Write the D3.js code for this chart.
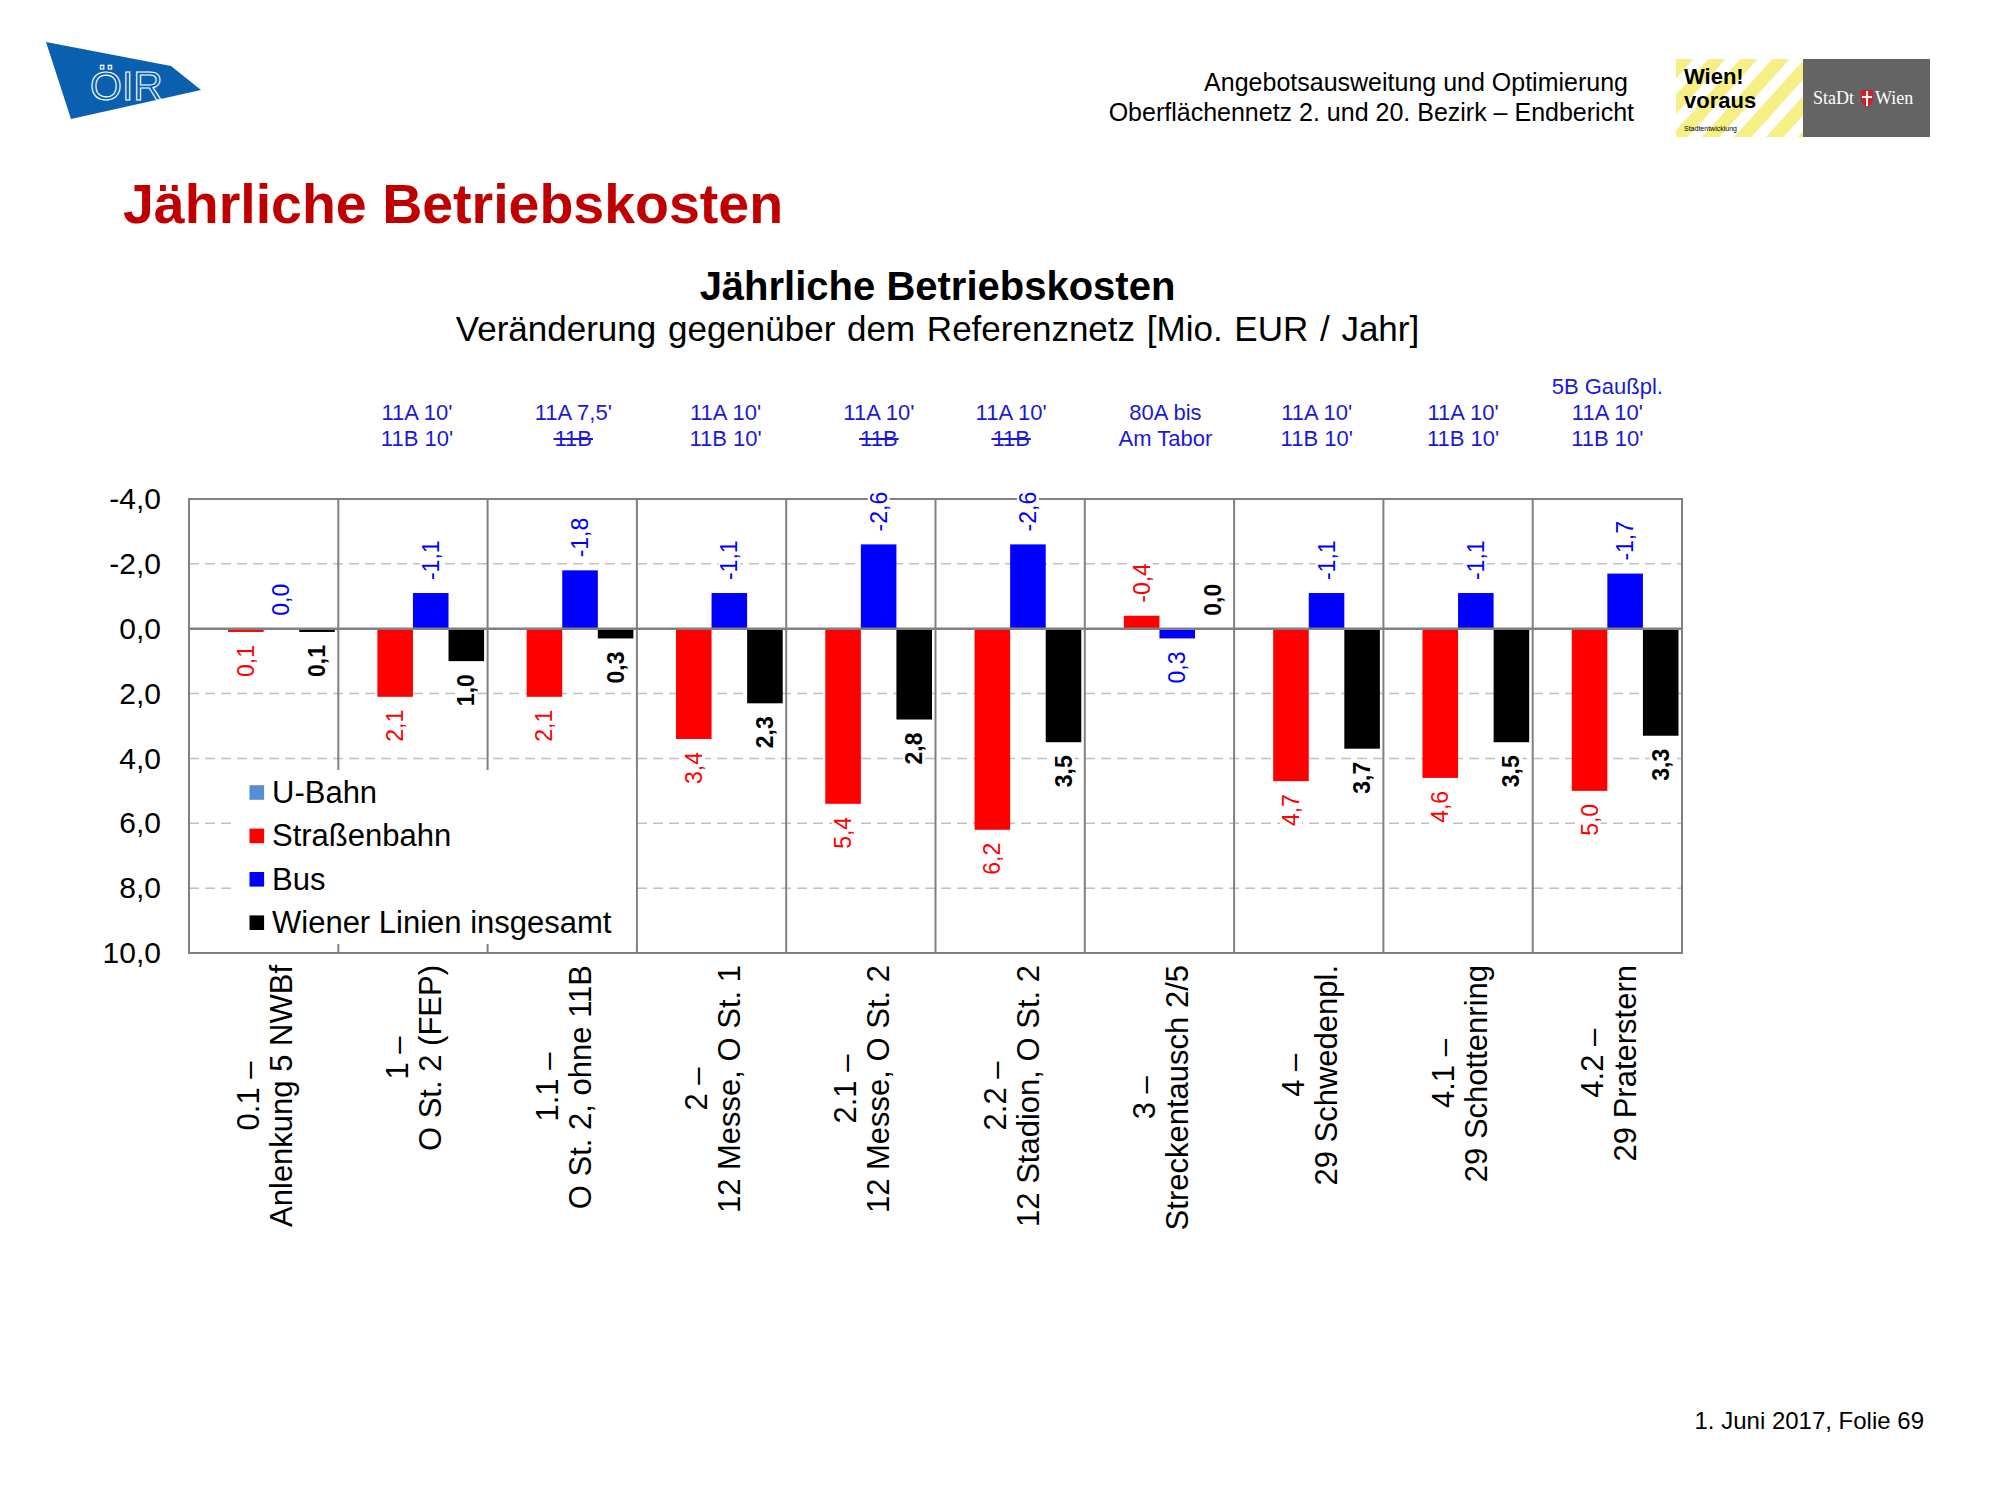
<!DOCTYPE html>
<html>
<head>
<meta charset="utf-8">
<script src="https://cdn.jsdelivr.net/npm/d3@7"></script>
<style>
  body { margin: 0; background: #fff; }
  svg { display: block; font-family: "Liberation Sans", Arial, sans-serif; }
</style>
</head>
<body>
<svg id="slide" width="2000" height="1500"></svg>
<script>
// chart data
const categories = [
  ["0.1 –", "Anlenkung 5 NWBf"],
  ["1 –", "O St. 2 (FEP)"],
  ["1.1 –", "O St. 2, ohne 11B"],
  ["2 –", "12 Messe, O St. 1"],
  ["2.1 –", "12 Messe, O St. 2"],
  ["2.2 –", "12 Stadion, O St. 2"],
  ["3 –", "Streckentausch 2/5"],
  ["4 –", "29 Schwedenpl."],
  ["4.1 –", "29 Schottenring"],
  ["4.2 –", "29 Praterstern"]
];
const seriesNames = ["U-Bahn", "Straßenbahn", "Bus", "Wiener Linien insgesamt"];
const uBahn = [null, null, null, null, null, null, null, null, null, null];
const strassenbahn = [0.1, 2.1, 2.1, 3.4, 5.4, 6.2, -0.4, 4.7, 4.6, 5.0];
const bus = [0.0, -1.1, -1.8, -1.1, -2.6, -2.6, 0.3, -1.1, -1.1, -1.7];
const wienerLinien = [0.1, 1.0, 0.3, 2.3, 2.8, 3.5, 0.0, 3.7, 3.5, 3.3];
const yTicks = [-4, -2, 0, 2, 4, 6, 8, 10];

// notes above each scenario; struckNotes = lines that are crossed out
const notes = [
  [],
  ["11A 10'", "11B 10'"],
  ["11A 7,5'", "11B"],
  ["11A 10'", "11B 10'"],
  ["11A 10'", "11B"],
  ["11A 10'", "11B"],
  ["80A bis", "Am Tabor"],
  ["11A 10'", "11B 10'"],
  ["11A 10'", "11B 10'"],
  ["5B Gaußpl.", "11A 10'", "11B 10'"]
];
const struckNotes = [[], [], [1], [], [1], [1], [], [], [], []];

const colours = ["#558ed5", "#ff0000", "#0000ff", "#000000"];

const locale = d3.formatLocale({ decimal: ",", thousands: ".", grouping: [3], currency: ["", " €"], minus: "-" });
const fmt = locale.format(".1f");

class Slide {
  constructor() {
    this.$svg = d3.select("svg#slide");
    this.plot = { left: 189, right: 1682, top: 499, bottom: 953 };
    this.values = [uBahn, strassenbahn, bus, wienerLinien];

    this.x = d3.scaleBand()
      .domain(d3.range(categories.length))
      .range([this.plot.left, this.plot.right]);
    this.xs = d3.scaleBand()
      .domain(seriesNames)
      .range([3.5, this.x.bandwidth() - 3.5]);
    this.y = d3.scaleLinear()
      .domain([-4, 10])
      .range([this.plot.top, this.plot.bottom]);

    this.drawHeader();
    this.drawTitles();
    this.drawGrid();
    this.drawBars();
    this.drawLabels();
    this.drawLegend();
    this.drawCategories();
    this.drawNotes();
  }

  drawHeader() {
    const $s = this.$svg;

    // ÖIR pennant
    const $oir = $s.append("g");
    $oir.append("polygon")
      .attr("points", "46,42 171,66 201,90 71,119")
      .attr("fill", "#0a5fae");
    $oir.append("text")
      .attr("x", 90).attr("y", 100)
      .attr("font-size", 41)
      .attr("fill", "none")
      .attr("stroke", "#fff")
      .attr("stroke-width", 1.1)
      .text("ÖIR");

    $s.append("text")
      .attr("x", 1628).attr("y", 91)
      .attr("text-anchor", "end")
      .attr("font-size", 25)
      .text("Angebotsausweitung und Optimierung");
    $s.append("text")
      .attr("x", 1634).attr("y", 121)
      .attr("text-anchor", "end")
      .attr("font-size", 25)
      .text("Oberflächennetz 2. und 20. Bezirk – Endbericht");

    // Wien! voraus logo
    const $wv = $s.append("g").attr("transform", "translate(1676,59)");
    $s.append("defs").append("clipPath").attr("id", "wv-clip")
      .append("rect").attr("width", 127).attr("height", 78);
    const $stripes = $wv.append("g").attr("clip-path", "url(#wv-clip)");
    $stripes.append("rect").attr("width", 127).attr("height", 78).attr("fill", "#fff");
    d3.range(-2, 8).forEach((k) => {
      $stripes.append("line")
        .attr("x1", k * 32 - 40).attr("y1", 90)
        .attr("x2", k * 32 + 50).attr("y2", -10)
        .attr("stroke", "#f6ef86")
        .attr("stroke-width", 13);
    });
    $wv.append("text").attr("x", 8).attr("y", 25)
      .attr("font-size", 22).attr("font-weight", "bold").text("Wien!");
    $wv.append("text").attr("x", 8).attr("y", 49)
      .attr("font-size", 22).attr("font-weight", "bold").text("voraus");
    $wv.append("text").attr("x", 8).attr("y", 72)
      .attr("font-size", 7).text("Stadtentwicklung");

    // Stadt Wien logo
    const $sw = $s.append("g").attr("transform", "translate(1803,59)");
    $sw.append("rect").attr("width", 127).attr("height", 78).attr("fill", "#646464");
    $sw.append("text").attr("x", 10).attr("y", 45)
      .attr("font-family", "'Liberation Serif', serif")
      .attr("font-size", 18).attr("fill", "#fff").text("StaDt");
    $sw.append("path")
      .attr("d", "M58,31 h12 v9 q0,6 -6,8 q-6,-2 -6,-8 Z")
      .attr("fill", "#d0202a");
    $sw.append("path")
      .attr("d", "M64,32 v15 M59,38 h10")
      .attr("stroke", "#fff").attr("stroke-width", 2);
    $sw.append("text").attr("x", 72).attr("y", 45)
      .attr("font-family", "'Liberation Serif', serif")
      .attr("font-size", 18).attr("fill", "#fff").text("Wien");

    $s.append("text")
      .attr("x", 123).attr("y", 223)
      .attr("font-size", 55.5)
      .attr("font-weight", "bold")
      .attr("fill", "#c00000")
      .text("Jährliche Betriebskosten");

    $s.append("text")
      .attr("x", 1924).attr("y", 1429)
      .attr("text-anchor", "end")
      .attr("font-size", 24)
      .text("1. Juni 2017, Folie 69");
  }

  drawTitles() {
    const cx = (this.plot.left + this.plot.right) / 2 + 2;
    this.$svg.append("text")
      .attr("x", cx).attr("y", 300)
      .attr("text-anchor", "middle")
      .attr("font-size", 40).attr("font-weight", "bold")
      .text("Jährliche Betriebskosten");
    this.$svg.append("text")
      .attr("x", cx).attr("y", 341)
      .attr("text-anchor", "middle")
      .attr("font-size", 35)
      .attr("word-spacing", 2)
      .text("Veränderung gegenüber dem Referenznetz [Mio. EUR / Jahr]");
  }

  drawGrid() {
    const { left, right, top, bottom } = this.plot;
    const $g = this.$svg.append("g");

    $g.selectAll("line.grid")
      .data(yTicks.filter((t) => t !== -4 && t !== 0 && t !== 10))
      .join("line")
      .attr("class", "grid")
      .attr("x1", left).attr("x2", right)
      .attr("y1", (d) => this.y(d)).attr("y2", (d) => this.y(d))
      .attr("stroke", "#c0c0c0")
      .attr("stroke-width", 1.5)
      .attr("stroke-dasharray", "10,6");

    $g.selectAll("line.sep")
      .data(d3.range(1, categories.length))
      .join("line")
      .attr("class", "sep")
      .attr("x1", (d) => this.x(d)).attr("x2", (d) => this.x(d))
      .attr("y1", top).attr("y2", bottom)
      .attr("stroke", "#808080")
      .attr("stroke-width", 2);

    $g.append("rect")
      .attr("x", left).attr("y", top)
      .attr("width", right - left).attr("height", bottom - top)
      .attr("fill", "none")
      .attr("stroke", "#808080")
      .attr("stroke-width", 2);

    const yAxis = d3.axisLeft(this.y)
      .tickValues(yTicks)
      .tickFormat(fmt)
      .tickSize(0)
      .tickPadding(28);
    this.$svg.append("g")
      .attr("transform", `translate(${left},0)`)
      .call(yAxis)
      .call((g) => g.select(".domain").remove())
      .selectAll("text")
      .attr("font-family", "'Liberation Sans', Arial, sans-serif")
      .attr("font-size", 30)
      .attr("fill", "#000");
  }

  drawBars() {
    const $bars = this.$svg.append("g");
    seriesNames.forEach((name, s) => {
      $bars.append("g")
        .attr("fill", colours[s])
        .selectAll("rect")
        .data(this.values[s].map((v, i) => ({ v, i })).filter((d) => d.v !== null))
        .join("rect")
        .attr("x", (d) => this.x(d.i) + this.xs(name))
        .attr("width", this.xs.bandwidth())
        .attr("y", (d) => Math.min(this.y(0), this.y(d.v)))
        .attr("height", (d) => Math.abs(this.y(d.v) - this.y(0)));
    });

    // zero line over the bars
    this.$svg.append("line")
      .attr("x1", this.plot.left).attr("x2", this.plot.right)
      .attr("y1", this.y(0)).attr("y2", this.y(0))
      .attr("stroke", "#808080")
      .attr("stroke-width", 2.5);
  }

  drawLabels() {
    const $labels = this.$svg.append("g");
    seriesNames.forEach((name, s) => {
      this.values[s].forEach((v, i) => {
        if (v === null) return;
        const cx = this.x(i) + this.xs(name) + this.xs.bandwidth() / 2;
        const ay = v > 0 ? this.y(v) + 13 : this.y(v) - 13;
        const $g = $labels.append("g")
          .attr("transform", `translate(${cx},${ay}) rotate(-90)`);
        const $bg = $g.append("rect").attr("fill", "#fff");
        const $t = $g.append("text")
          .attr("text-anchor", v > 0 ? "end" : "start")
          .attr("dominant-baseline", "central")
          .attr("font-size", 23)
          .attr("font-weight", s === 3 ? "bold" : "normal")
          .attr("fill", colours[s])
          .text(fmt(v));
        const b = $t.node().getBBox();
        $bg.attr("x", b.x - 2).attr("y", b.y + 2)
          .attr("width", b.width + 4).attr("height", b.height - 4);
      });
    });
  }

  drawLegend() {
    const $l = this.$svg.append("g");
    $l.append("rect")
      .attr("x", 232).attr("y", 770)
      .attr("width", 404).attr("height", 174)
      .attr("fill", "#fff");
    seriesNames.forEach((name, s) => {
      const cy = 792.5 + s * 43.4;
      $l.append("rect")
        .attr("x", 249.5).attr("y", cy - 7.3)
        .attr("width", 14.6).attr("height", 14.6)
        .attr("fill", colours[s]);
      $l.append("text")
        .attr("x", 272).attr("y", cy)
        .attr("dominant-baseline", "central")
        .attr("font-size", 31)
        .text(name);
    });
  }

  drawCategories() {
    const top = 965;
    const $c = this.$svg.append("g");
    categories.forEach((lines, i) => {
      const cx = this.x(i) + this.x.bandwidth() / 2;
      const $g = $c.append("g")
        .attr("transform", `translate(${cx},${top}) rotate(-90)`);
      const $texts = lines.map((line, k) =>
        $g.append("text")
          .attr("y", k === 0 ? -15 : 18)
          .attr("text-anchor", "middle")
          .attr("dominant-baseline", "central")
          .attr("font-size", 31)
          .text(line)
      );
      const maxLen = d3.max($texts, ($t) => $t.node().getComputedTextLength());
      $texts.forEach(($t) => $t.attr("x", -maxLen / 2));
    });
  }

  drawNotes() {
    // the notes are free text boxes on the slide, each nudged a little right of its column centre
    const noteNudge = [0, 4, 11, 14, 18, 1, 6, 8, 5, 0];
    const $n = this.$svg.append("g").attr("fill", "#1a1ad6");
    notes.forEach((lines, i) => {
      const cx = this.x(i) + this.x.bandwidth() / 2 + noteNudge[i];
      lines.forEach((line, k) => {
        const by = 446 - (lines.length - 1 - k) * 26;
        const $t = $n.append("text")
          .attr("x", cx).attr("y", by)
          .attr("text-anchor", "middle")
          .attr("font-size", 22)
          .text(line);
        if (struckNotes[i].includes(k)) {
          const b = $t.node().getBBox();
          $n.append("line")
            .attr("x1", b.x - 1).attr("x2", b.x + b.width + 1)
            .attr("y1", by - 7).attr("y2", by - 7)
            .attr("stroke", "#1a1ad6")
            .attr("stroke-width", 2);
        }
      });
    });
  }
}

window.slide = new Slide();
</script>
</body>
</html>
